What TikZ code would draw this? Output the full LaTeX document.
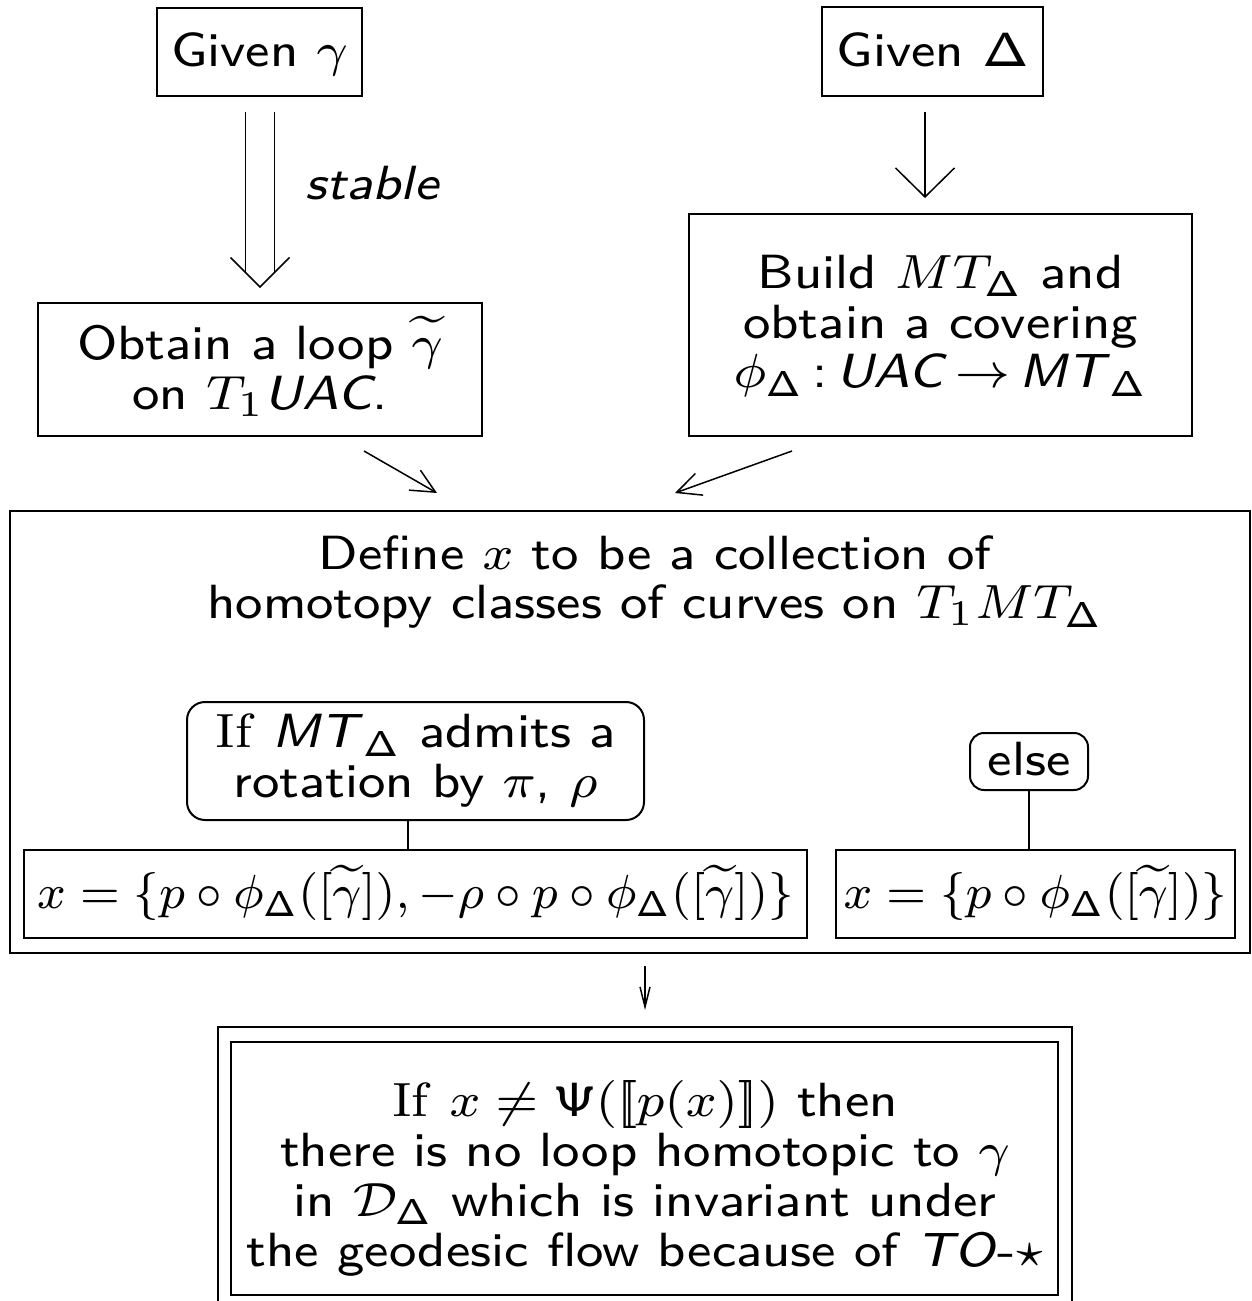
\documentclass[tikz,border=0pt]{standalone}
\usepackage{graphicx}
\usetikzlibrary{arrows.meta,calc}
\newcommand{\txt}[3]{\scalebox{#1}[#2]{\fontsize{8}{8.33}\selectfont\sffamily\begin{tabular}{@{}c@{}}#3\end{tabular}}}
\newcommand{\tx}[1]{\txt{3.22}{3}{#1}}
\newcommand{\low}[2]{\raisebox{-#1}[\height][\depth]{#2}}
\newcommand{\sD}{\mathsf{\Delta}}
\newcommand{\llb}{\mathopen{[\mkern-3.5mu[}}
\newcommand{\rrb}{\mathclose{]\mkern-3.5mu]}}
\begin{document}
\begin{tikzpicture}[x=0.5pt,y=-0.5pt,
  box/.style={draw, line width=1pt, inner sep=0pt},
  rbox/.style={box, rounded corners=9pt},
  lbl/.style={inner sep=0pt},
  conn/.style={line width=0.75pt},
  bigtip/.style={conn,-{Straight Barb[length=14.5pt,width=29.5pt]}},
  midtip/.style={conn,-{Straight Barb[length=12pt,width=11.5pt]}},
  smalltip/.style={conn,-{Straight Barb[length=10pt,width=5pt]}}]
\useasboundingbox (0,0) rectangle (1252,1301);
\node[box, minimum width=102.5pt, minimum height=44pt] (g) at (259.5,52) {\low{2.5pt}{\tx{Given $\gamma$}}};
\node[box, minimum width=110.5pt, minimum height=44.5pt] (d) at (932.5,51.5) {\low{2.5pt}{\tx{Given $\mathsf{\Delta}$}}};
\node[box, minimum width=251.5pt, minimum height=111pt] (b) at (940.5,325) {\low{1.5pt}{\tx{Build $MT_{\sD}$ and\\ obtain a covering\\ $\phi_{\sD}$\,:\,\textit{UAC}\,$\rightarrow$\,\textit{MT}$_{\sD}$}}};
\node[box, minimum width=222pt, minimum height=66.5pt] (o) at (260,369.5) {\low{0.5pt}{\tx{Obtain a loop $\widetilde{\gamma}$\\ on $T_1$\textit{UAC}.}}};
\node[box, minimum width=620pt, minimum height=221pt] (big) at (630,732) {};
\node[lbl] (bigt) at (655,584) {\tx{Define $x$ to be a collection of\\ homotopy classes of curves on $T_1MT_{\sD}$}};
\node[rbox, minimum width=228.5pt, minimum height=59pt] (r) at (415.5,761) {\low{0.8pt}{\tx{\textrm{If} \textit{MT}$_{\sD}$ admits a\\ rotation by $\pi$, $\rho$}}};
\node[rbox, rounded corners=7pt, minimum width=59pt, minimum height=28.5pt] (e) at (1029,761.5) {\low{2pt}{\tx{else}}};
\node[box, minimum width=391.5pt, minimum height=44pt] (f1) at (415.5,894) {\txt{3}{3}{$x = \{p\circ\phi_{\sD}([\widetilde{\gamma}]), -\rho\circ p\circ\phi_{\sD}([\widetilde{\gamma}])\}$}};
\node[box, minimum width=199.5pt, minimum height=44pt] (f2) at (1035.5,894) {\txt{3}{3}{$x = \{p\circ\phi_{\sD}([\widetilde{\gamma}])\}$}};
\node[box, minimum width=427pt, minimum height=141.5pt] (outer) at (645,1168.5) {};
\node[box, minimum width=413.5pt, minimum height=126.5pt] (inner) at (644.5,1168.5) {};
\node[lbl] (innert) at (645,1181) {\tx{\textrm{If} $x\neq\mathsf{\Psi}(\llb p(x)\rrb)$ then\\ there is no loop homotopic to $\gamma$\\ in $\mathcal{D}_{\sD}$ which is invariant under\\ the geodesic flow because of \textit{TO}-$\star$}};
% double arrow g -> o
\coordinate (tipA) at ($(o.north)+(0,-15)$);
\coordinate (startA) at ($(g.south)+(0,15)$);
\coordinate (L1) at ($(tipA)+(-14.5,-14.5)$);
\coordinate (R1) at ($(tipA)+(14.5,-14.5)$);
\draw[conn] (L1 |- startA) -- (L1);
\draw[conn] (R1 |- startA) -- (R1);
\draw[conn] ($(tipA)+(-29.5,-29.5)$) -- (tipA) -- ($(tipA)+(29.5,-29.5)$);
\node[lbl] (st) at (372,190) {\tx{\itshape stable}};
% d -> b
\coordinate (dA) at ($(d.south)+(-7.5,15)$);
\draw[bigtip, shorten >=7.5pt] (dA) -- (dA |- b.north);
% o, b -> big
\coordinate (a1s) at ($(o.south)+(104,14)$);
\coordinate (a1e) at ($(big.north)+(-193,-17)$);
\draw[midtip] (a1s) -- (a1e);
\coordinate (a2s) at ($(b.south)+(-148.5,14)$);
\coordinate (a2e) at ($(big.north)+(45,-17)$);
\draw[midtip] (a2s) -- (a2e);
% r -> f1, e -> f2
\coordinate (rS) at ($(r.south)+(-7.5,0)$);
\draw[conn] (rS) -- (rS |- f1.north);
\draw[conn] (e.south) -- (e.south |- f2.north);
% big -> outer
\coordinate (sa) at ($(outer.north)+(0,-60)$);
\coordinate (sb) at ($(outer.north)+(0,-16)$);
\draw[smalltip] (sa) -- (sb);
\end{tikzpicture}
\end{document}
